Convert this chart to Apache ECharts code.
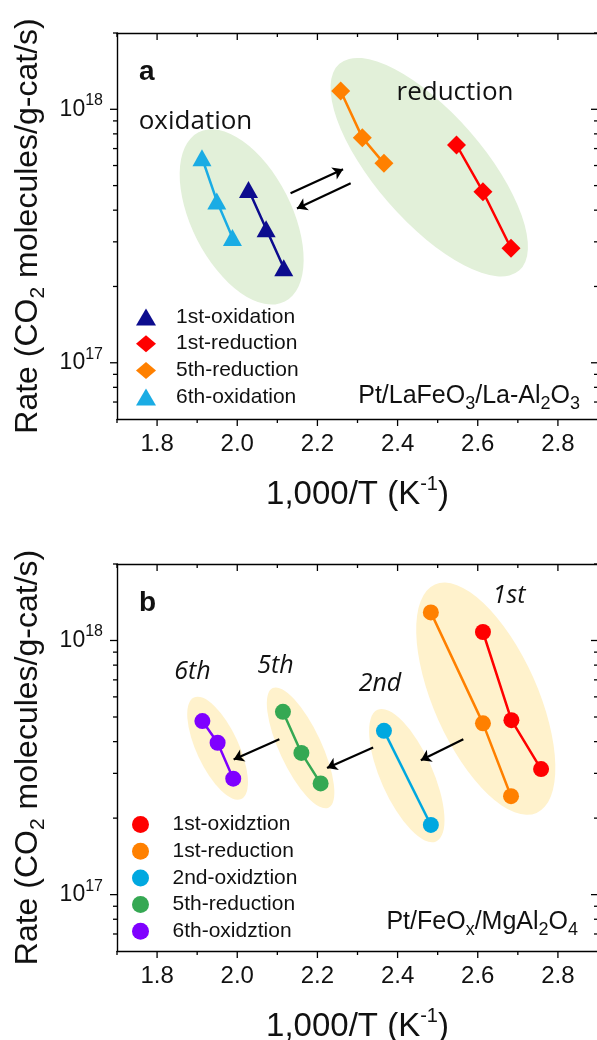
<!DOCTYPE html>
<html>
<head>
<meta charset="utf-8">
<script src="https://cdn.jsdelivr.net/npm/echarts@6/dist/echarts.min.js"></script>
<style>
  html, body { margin: 0; padding: 0; background: #fff; }
  #main { width: 597px; height: 1040px; }
</style>
</head>
<body>
<div id="main"></div>
<script>
// ---- data ----
// panel a : Pt/LaFeO3/La-Al2O3
var aOx1X = [2.028, 2.072, 2.116];
var aOx1Y = [4.83e17, 3.38e17, 2.37e17];
var aRed1X = [2.547, 2.613, 2.683];
var aRed1Y = [7.23e17, 4.73e17, 2.83e17];
var aRed5X = [2.258, 2.312, 2.366];
var aRed5Y = [1.18e18, 7.73e17, 6.12e17];
var aOx6X = [1.912, 1.949, 1.988];
var aOx6Y = [6.44e17, 4.35e17, 3.12e17];

// panel b : Pt/FeOx/MgAl2O4
var bOx1X = [2.613, 2.684, 2.758];
var bOx1Y = [1.08e18, 4.86e17, 3.12e17];
var bRed1X = [2.483, 2.613, 2.683];
var bRed1Y = [1.29e18, 4.72e17, 2.44e17];
var bOx2X = [2.366, 2.483];
var bOx2Y = [4.41e17, 1.88e17];
var bRed5X = [2.114, 2.160, 2.208];
var bRed5Y = [5.24e17, 3.61e17, 2.74e17];
var bOx6X = [1.913, 1.951, 1.990];
var bOx6Y = [4.82e17, 3.96e17, 2.86e17];

// axes
var X_MIN = 1.7, X_MAX = 2.9;
var Y_MIN = 6e16, Y_MAX = 2e18;
var xMajor = [1.8, 2.0, 2.2, 2.4, 2.6, 2.8];
var xMinor = [1.7, 1.9, 2.1, 2.3, 2.5, 2.7, 2.9];
var yMajor = [1e17, 1e18];
var yMinor = [7e16, 8e16, 9e16, 2e17, 3e17, 4e17, 5e17, 6e17, 7e17, 8e17, 9e17, 2e18];

// shaded groups: centre x, centre y, semi-axes (px), tilt (deg)
var aBlobs = [[2.011, 3.76e17, 95, 50, 63], [2.479, 5.91e17, 137, 54, 49]];
var bBlobs = [[1.951, 3.77e17, 56, 21, 65], [2.158, 3.78e17, 66, 21, 65],
              [2.423, 2.94e17, 72, 26, 66], [2.620, 5.90e17, 125, 52, 66]];
// arrows: from -> to
var aArrows = [[[2.133, 4.66e17], [2.264, 5.80e17]], [[2.283, 5.11e17], [2.149, 4.06e17]]];
var bArrows = [[[2.564, 4.09e17], [2.458, 3.38e17]], [[2.339, 3.79e17], [2.224, 3.15e17]],
               [[2.105, 4.09e17], [1.991, 3.40e17]]];

var SANS = '"Liberation Sans", Arial, sans-serif';
var CAL = '"Open Sans", sans-serif';
var INK = '#111';

function zip(xs, ys) { return xs.map(function (x, i) { return [x, ys[i]]; }); }

var chart = echarts.init(document.getElementById('main'));

var grids = [
  { left: 117, top: 33, width: 481, height: 386, outerBoundsMode: 'none' },
  { left: 117, top: 564, width: 481, height: 387, outerBoundsMode: 'none' }
];

var xAxes = [], yAxes = [];
[0, 1].forEach(function (g) {
  xAxes.push({
    gridIndex: g, type: 'value', min: X_MIN, max: X_MAX, interval: 0.1,
    axisLine: { show: true, onZero: false, lineStyle: { color: '#000', width: 1.4 } },
    axisTick: { show: false }, splitLine: { show: false },
    axisLabel: {
      fontSize: 24, fontFamily: SANS, color: INK, margin: 13,
      formatter: function (v) { return Math.round(v * 10) % 2 === 0 ? v.toFixed(1) : ''; }
    },
    name: '1,000/T (K{sup|-1})', nameLocation: 'middle', nameGap: 59,
    nameTextStyle: {
      fontSize: 33, fontFamily: SANS, color: INK, lineHeight: 34,
      rich: { sup: { fontSize: 20, fontFamily: SANS, color: INK, lineHeight: 20, padding: [0, 0, 22, 0] } }
    }
  });
  xAxes.push({
    gridIndex: g, type: 'value', min: X_MIN, max: X_MAX, position: 'top',
    axisLine: { show: true, onZero: false, lineStyle: { color: '#000', width: 1.4 } },
    axisTick: { show: false }, axisLabel: { show: false }, splitLine: { show: false }
  });
  yAxes.push({
    gridIndex: g, type: 'log', logBase: 10, min: Y_MIN, max: Y_MAX,
    axisLine: { show: true, onZero: false, lineStyle: { color: '#000', width: 1.4 } },
    axisTick: { show: false }, splitLine: { show: false },
    axisLabel: {
      fontSize: 23, fontFamily: SANS, color: INK, margin: 14, lineHeight: 24,
      formatter: function (v) {
        var e = Math.log10(v), r = Math.round(e);
        return Math.abs(e - r) < 1e-6 ? '10{sup|' + r + '}' : '';
      },
      rich: { sup: { fontSize: 16, fontFamily: SANS, color: INK, lineHeight: 16, padding: [0, 0, 17, 0] } }
    },
    name: 'Rate (CO{sub|2} molecules/g-cat/s)', nameLocation: 'middle', nameRotate: 90, nameGap: 72,
    nameTextStyle: {
      fontSize: 32, fontFamily: SANS, color: INK, lineHeight: 34,
      rich: { sub: { fontSize: 21, fontFamily: SANS, color: INK, lineHeight: 21, padding: [20, 0, 0, 0] } }
    }
  });
  yAxes.push({
    gridIndex: g, type: 'log', logBase: 10, min: Y_MIN, max: Y_MAX, position: 'right',
    axisLine: { show: true, onZero: false, lineStyle: { color: '#000', width: 1.4 } },
    axisTick: { show: false }, axisLabel: { show: false }, splitLine: { show: false }
  });
});

// tick marks: outward on left/bottom, inward on top/right
function tickItem(params, api) {
  var lo = api.coord([X_MIN, Y_MIN]), hi = api.coord([X_MAX, Y_MAX]);
  var left = lo[0], bottom = lo[1], right = hi[0], top = hi[1];
  var kids = [];
  function seg(a, b, c, d) {
    kids.push({ type: 'line', shape: { x1: a, y1: b, x2: c, y2: d }, style: { stroke: '#000', lineWidth: 1.3 } });
  }
  xMajor.forEach(function (v) { var x = api.coord([v, Y_MIN])[0]; seg(x, bottom, x, bottom + 7); seg(x, top, x, top + 7); });
  xMinor.forEach(function (v) { var x = api.coord([v, Y_MIN])[0]; seg(x, bottom, x, bottom + 4); seg(x, top, x, top + 4); });
  yMajor.forEach(function (v) { var y = api.coord([X_MIN, v])[1]; seg(left - 7, y, left, y); seg(right - 7, y, right, y); });
  yMinor.forEach(function (v) { var y = api.coord([X_MIN, v])[1]; seg(left - 4, y, left, y); seg(right - 4, y, right, y); });
  return { type: 'group', children: kids };
}

function blobItem(params, api) {
  var p = api.coord([api.value(0), api.value(1)]);
  return {
    type: 'circle', x: p[0], y: p[1],
    scaleX: api.value(2), scaleY: api.value(3),
    rotation: -api.value(4) * Math.PI / 180,
    shape: { cx: 0, cy: 0, r: 1 },
    style: { fill: api.visual('color') }
  };
}

function dataLine(name, g, xs, ys, color, symbol, size) {
  return {
    name: name, type: 'line', xAxisIndex: 2 * g, yAxisIndex: 2 * g,
    data: zip(xs, ys), symbol: symbol, symbolSize: size, showSymbol: true,
    color: color, itemStyle: { color: color }, lineStyle: { color: color, width: 2.5 },
    z: 5
  };
}

var series = [
  { type: 'custom', xAxisIndex: 0, yAxisIndex: 0, renderItem: blobItem, data: aBlobs, color: '#e2f0d9', z: 1, silent: true, clip: false },
  { type: 'custom', xAxisIndex: 2, yAxisIndex: 2, renderItem: blobItem, data: bBlobs, color: '#fff2cc', z: 1, silent: true, clip: false },
  { type: 'custom', xAxisIndex: 0, yAxisIndex: 0, renderItem: tickItem, data: [[X_MIN, Y_MIN]], z: 6, silent: true, clip: false },
  { type: 'custom', xAxisIndex: 2, yAxisIndex: 2, renderItem: tickItem, data: [[X_MIN, Y_MIN]], z: 6, silent: true, clip: false },
  {
    type: 'lines', coordinateSystem: 'cartesian2d', xAxisIndex: 0, yAxisIndex: 0, z: 3,
    data: aArrows.map(function (c) { return { coords: c }; }),
    symbol: ['none', 'arrow'], symbolSize: [8, 10], lineStyle: { color: '#000', width: 2.2, opacity: 1 }
  },
  {
    type: 'lines', coordinateSystem: 'cartesian2d', xAxisIndex: 2, yAxisIndex: 2, z: 3,
    data: bArrows.map(function (c) { return { coords: c }; }),
    symbol: ['none', 'arrow'], symbolSize: [8, 10], lineStyle: { color: '#000', width: 2.2, opacity: 1 }
  },
  dataLine('a:1st-oxidation', 0, aOx1X, aOx1Y, '#0c0c8e', 'triangle', [19, 17]),
  dataLine('a:1st-reduction', 0, aRed1X, aRed1Y, '#ff0000', 'diamond', [19, 19]),
  dataLine('a:5th-reduction', 0, aRed5X, aRed5Y, '#ff8000', 'diamond', [19, 19]),
  dataLine('a:6th-oxidation', 0, aOx6X, aOx6Y, '#1aace4', 'triangle', [19, 17]),
  dataLine('b:1st-oxidztion', 1, bOx1X, bOx1Y, '#ff0000', 'circle', 16),
  dataLine('b:1st-reduction', 1, bRed1X, bRed1Y, '#ff8000', 'circle', 16),
  dataLine('b:2nd-oxidztion', 1, bOx2X, bOx2Y, '#00a8e0', 'circle', 16),
  dataLine('b:5th-reduction', 1, bRed5X, bRed5Y, '#35a853', 'circle', 16),
  dataLine('b:6th-oxidztion', 1, bOx6X, bOx6Y, '#7f00ff', 'circle', 16)
];

function legendFor(names, icon, left, top, pad) {
  return {
    orient: 'vertical', left: left, top: top, padding: 0,
    itemWidth: 20, itemHeight: 17, itemGap: 5.7, selectedMode: false,
    data: names.map(function (n, i) { return { name: n, icon: icon[i] }; }),
    formatter: function (n) { return n.slice(2); },
    textStyle: { fontSize: 21, fontFamily: SANS, color: INK, lineHeight: 17, padding: [0, 0, 0, pad] }
  };
}

var subRich = { s: { fontSize: 18, fontFamily: SANS, fill: INK, lineHeight: 18, padding: [17, 0, 0, 0] } };

function label(txt, x, y, font, align) {
  return { type: 'text', z: 10, style: { text: txt, x: x, y: y, font: font, fill: INK, align: align || 'center', verticalAlign: 'middle' } };
}

var option = {
  animation: false,
  backgroundColor: '#fff',
  grid: grids,
  xAxis: xAxes,
  yAxis: yAxes,
  legend: [
    legendFor(['a:1st-oxidation', 'a:1st-reduction', 'a:5th-reduction', 'a:6th-oxidation'],
      ['triangle', 'diamond', 'diamond', 'triangle'], 136, 306.5, 15),
    legendFor(['b:1st-oxidztion', 'b:1st-reduction', 'b:2nd-oxidztion', 'b:5th-reduction', 'b:6th-oxidztion'],
      ['circle', 'circle', 'circle', 'circle', 'circle'], 132, 814, 17)
  ],
  graphic: [
    label('a', 139, 72, 'bold 28px ' + SANS, 'left'),
    label('b', 139, 603.5, 'bold 28px ' + SANS, 'left'),
    label('oxidation', 195.5, 122, '26px ' + CAL),
    label('reduction', 455, 93, '26px ' + CAL),
    label('6th', 192.5, 672, 'italic 25px ' + CAL),
    label('5th', 275.5, 665.5, 'italic 25px ' + CAL),
    label('2nd', 380, 684, 'italic 25px ' + CAL),
    label('1st', 509, 596, 'italic 25px ' + CAL),
    { type: 'text', z: 10, style: { text: 'Pt/LaFeO{s|3}/La-Al{s|2}O{s|3}', x: 580, y: 396, font: '25px ' + SANS,
      fill: INK, align: 'right', verticalAlign: 'middle', lineHeight: 26, rich: subRich } },
    { type: 'text', z: 10, style: { text: 'Pt/FeO{s|x}/MgAl{s|2}O{s|4}', x: 578, y: 922, font: '25px ' + SANS,
      fill: INK, align: 'right', verticalAlign: 'middle', lineHeight: 26, rich: subRich } }
  ],
  series: series
};

chart.setOption(option);
</script>
</body>
</html>
